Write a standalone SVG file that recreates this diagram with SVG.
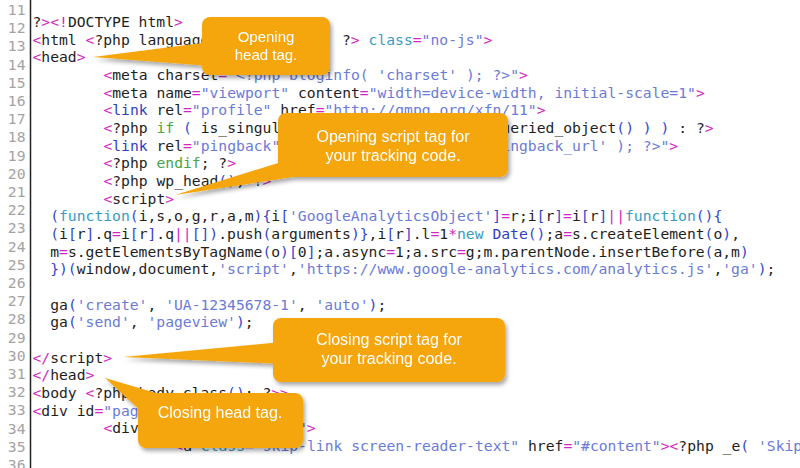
<svg xmlns="http://www.w3.org/2000/svg" width="800" height="468" viewBox="0 0 800 468">
<style>
.code text, .ln text { font-family: "DejaVu Sans Mono", "Liberation Mono", monospace; font-size: 14.7px; white-space: pre; }
.ln text { fill: #a3a3a3; text-anchor: end; }
.k { fill: #1e1e1e; }
.t { fill: #d426c6; }
.s { fill: #6b7bd6; }
.p { fill: #3447cc; }
.f { fill: #3a9bc2; }
.g { fill: #46a546; }
.b { fill: #2f3fc2; }
.callout { fill: #f5a60f; }
.ctext { font-family: "Liberation Sans", Arial, sans-serif; font-size: 16px; fill: #ffffff; text-anchor: middle; }
</style>
<defs>
<filter id="sh" x="-20%" y="-30%" width="140%" height="170%">
<feDropShadow dx="2" dy="3" stdDeviation="2" flood-color="#000" flood-opacity="0.35"/>
</filter>
</defs>
<rect width="800" height="468" fill="#ffffff"/>
<line x1="30.5" y1="0" x2="30.5" y2="468" stroke="#222" stroke-width="1.5"/>
<g class="ln">
<text x="25.5" y="15">11</text>
<text x="25.5" y="33.2">12</text>
<text x="25.5" y="51.4">13</text>
<text x="25.5" y="69.6">14</text>
<text x="25.5" y="87.8">15</text>
<text x="25.5" y="106">16</text>
<text x="25.5" y="124.2">17</text>
<text x="25.5" y="142.4">18</text>
<text x="25.5" y="160.6">19</text>
<text x="25.5" y="178.8">20</text>
<text x="25.5" y="197">21</text>
<text x="25.5" y="215.2">22</text>
<text x="25.5" y="233.4">23</text>
<text x="25.5" y="251.6">24</text>
<text x="25.5" y="269.8">25</text>
<text x="25.5" y="288">26</text>
<text x="25.5" y="306.2">27</text>
<text x="25.5" y="324.4">28</text>
<text x="25.5" y="342.6">29</text>
<text x="25.5" y="360.8">30</text>
<text x="25.5" y="379">31</text>
<text x="25.5" y="397.2">32</text>
<text x="25.5" y="415.4">33</text>
<text x="25.5" y="433.6">34</text>
<text x="25.5" y="451.8">35</text>
<text x="25.5" y="470">36</text>
</g>
<g class="code" xml:space="preserve">
<text x="32.5" y="27"><tspan class="k">?</tspan><tspan class="t">&gt;&lt;!</tspan><tspan class="k">DOCTYPE html</tspan><tspan class="t">&gt;</tspan></text>
<text x="32.5" y="44.7"><tspan class="t">&lt;</tspan><tspan class="k">html </tspan><tspan class="t">&lt;</tspan><tspan class="k">?php language_attributes</tspan><tspan class="p">()</tspan><tspan class="k">; ?</tspan><tspan class="t">&gt;</tspan><tspan class="k"> </tspan><tspan class="f">class</tspan><tspan class="t">=</tspan><tspan class="s">"no-js"</tspan><tspan class="t">&gt;</tspan></text>
<text x="32.5" y="62.3"><tspan class="t">&lt;</tspan><tspan class="k">head</tspan><tspan class="t">&gt;</tspan></text>
<text x="103.4" y="80"><tspan class="t">&lt;</tspan><tspan class="k">meta charset</tspan><tspan class="t">=</tspan><tspan class="s">"&lt;?php bloginfo( 'charset' ); ?&gt;"</tspan><tspan class="t">&gt;</tspan></text>
<text x="103.4" y="97.7"><tspan class="t">&lt;</tspan><tspan class="k">meta name</tspan><tspan class="t">=</tspan><tspan class="s">"viewport"</tspan><tspan class="k"> content</tspan><tspan class="t">=</tspan><tspan class="s">"width=device-width, initial-scale=1"</tspan><tspan class="t">&gt;</tspan></text>
<text x="103.4" y="115.3"><tspan class="t">&lt;</tspan><tspan class="b">link</tspan><tspan class="k"> rel</tspan><tspan class="t">=</tspan><tspan class="s">"profile"</tspan><tspan class="k"> href</tspan><tspan class="t">=</tspan><tspan class="s">"http://gmpg.org/xfn/11"</tspan><tspan class="t">&gt;</tspan></text>
<text x="103.4" y="133"><tspan class="t">&lt;</tspan><tspan class="k">?php </tspan><tspan class="g">if</tspan><tspan class="k"> </tspan><tspan class="p">(</tspan><tspan class="k"> is_singular</tspan><tspan class="p">()</tspan><tspan class="k"> </tspan><tspan class="t">&amp;&amp;</tspan><tspan class="k"> pings_open</tspan><tspan class="p">(</tspan><tspan class="k"> get_queried_object</tspan><tspan class="p">()</tspan><tspan class="k"> </tspan><tspan class="p">)</tspan><tspan class="k"> </tspan><tspan class="p">)</tspan><tspan class="k"> : ?</tspan><tspan class="t">&gt;</tspan></text>
<text x="103.4" y="150.7"><tspan class="t">&lt;</tspan><tspan class="b">link</tspan><tspan class="k"> rel</tspan><tspan class="t">=</tspan><tspan class="s">"pingback"</tspan><tspan class="k"> href</tspan><tspan class="t">=</tspan><tspan class="s">"&lt;?php bloginfo( 'pingback_url' ); ?&gt;"</tspan><tspan class="t">&gt;</tspan></text>
<text x="103.4" y="168.3"><tspan class="t">&lt;</tspan><tspan class="k">?php </tspan><tspan class="g">endif</tspan><tspan class="k">; ?</tspan><tspan class="t">&gt;</tspan></text>
<text x="103.4" y="186"><tspan class="t">&lt;</tspan><tspan class="k">?php wp_head</tspan><tspan class="p">()</tspan><tspan class="k">; ?</tspan><tspan class="t">&gt;</tspan></text>
<text x="103.4" y="203.7"><tspan class="t">&lt;</tspan><tspan class="k">script</tspan><tspan class="t">&gt;</tspan></text>
<text x="50.2" y="221.4"><tspan class="p">(</tspan><tspan class="f">function</tspan><tspan class="p">(</tspan><tspan class="k">i,s,o,g,r,a,m</tspan><tspan class="p">){</tspan><tspan class="k">i</tspan><tspan class="p">[</tspan><tspan class="s">'GoogleAnalyticsObject'</tspan><tspan class="p">]</tspan><tspan class="t">=</tspan><tspan class="k">r;i</tspan><tspan class="p">[</tspan><tspan class="k">r</tspan><tspan class="p">]</tspan><tspan class="t">=</tspan><tspan class="k">i</tspan><tspan class="p">[</tspan><tspan class="k">r</tspan><tspan class="p">]</tspan><tspan class="t">||</tspan><tspan class="f">function</tspan><tspan class="p">(){</tspan></text>
<text x="50.2" y="239"><tspan class="p">(</tspan><tspan class="k">i</tspan><tspan class="p">[</tspan><tspan class="k">r</tspan><tspan class="p">]</tspan><tspan class="k">.q</tspan><tspan class="t">=</tspan><tspan class="k">i</tspan><tspan class="p">[</tspan><tspan class="k">r</tspan><tspan class="p">]</tspan><tspan class="k">.q</tspan><tspan class="t">||</tspan><tspan class="p">[])</tspan><tspan class="k">.push</tspan><tspan class="p">(</tspan><tspan class="k">arguments</tspan><tspan class="p">)}</tspan><tspan class="k">,i</tspan><tspan class="p">[</tspan><tspan class="k">r</tspan><tspan class="p">]</tspan><tspan class="k">.l</tspan><tspan class="t">=</tspan><tspan class="k">1</tspan><tspan class="t">*</tspan><tspan class="f">new</tspan><tspan class="k"> </tspan><tspan class="b">Date</tspan><tspan class="p">()</tspan><tspan class="k">;a</tspan><tspan class="t">=</tspan><tspan class="k">s.createElement</tspan><tspan class="p">(</tspan><tspan class="k">o</tspan><tspan class="p">)</tspan><tspan class="k">,</tspan></text>
<text x="50.2" y="256.7"><tspan class="k">m</tspan><tspan class="t">=</tspan><tspan class="k">s.getElementsByTagName</tspan><tspan class="p">(</tspan><tspan class="k">o</tspan><tspan class="p">)[</tspan><tspan class="k">0</tspan><tspan class="p">]</tspan><tspan class="k">;a.async</tspan><tspan class="t">=</tspan><tspan class="k">1;a.src</tspan><tspan class="t">=</tspan><tspan class="k">g;m.parentNode.insertBefore</tspan><tspan class="p">(</tspan><tspan class="k">a,m</tspan><tspan class="p">)</tspan></text>
<text x="50.2" y="274.4"><tspan class="p">})(</tspan><tspan class="k">window,document,</tspan><tspan class="s">'script'</tspan><tspan class="k">,</tspan><tspan class="s">'https://www.google-analytics.com/analytics.js'</tspan><tspan class="k">,</tspan><tspan class="s">'ga'</tspan><tspan class="p">)</tspan><tspan class="k">;</tspan></text>
<text x="50.2" y="309.7"><tspan class="k">ga</tspan><tspan class="p">(</tspan><tspan class="s">'create'</tspan><tspan class="k">, </tspan><tspan class="s">'UA-12345678-1'</tspan><tspan class="k">, </tspan><tspan class="s">'auto'</tspan><tspan class="p">)</tspan><tspan class="k">;</tspan></text>
<text x="50.2" y="327.4"><tspan class="k">ga</tspan><tspan class="p">(</tspan><tspan class="s">'send'</tspan><tspan class="k">, </tspan><tspan class="s">'pageview'</tspan><tspan class="p">)</tspan><tspan class="k">;</tspan></text>
<text x="32.5" y="362.7"><tspan class="t">&lt;/</tspan><tspan class="k">script</tspan><tspan class="t">&gt;</tspan></text>
<text x="32.5" y="380.4"><tspan class="t">&lt;/</tspan><tspan class="k">head</tspan><tspan class="t">&gt;</tspan></text>
<text x="32.5" y="398"><tspan class="t">&lt;</tspan><tspan class="k">body </tspan><tspan class="t">&lt;</tspan><tspan class="k">?php body_class</tspan><tspan class="p">()</tspan><tspan class="k">; ?</tspan><tspan class="t">&gt;&gt;</tspan></text>
<text x="32.5" y="415.7"><tspan class="t">&lt;</tspan><tspan class="k">div id</tspan><tspan class="t">=</tspan><tspan class="s">"page"</tspan><tspan class="k"> </tspan><tspan class="f">class</tspan><tspan class="t">=</tspan><tspan class="s">"site"</tspan><tspan class="t">&gt;</tspan></text>
<text x="103.4" y="433.4"><tspan class="t">&lt;</tspan><tspan class="k">div </tspan><tspan class="f">class</tspan><tspan class="t">=</tspan><tspan class="s">"site-inner"</tspan><tspan class="t">&gt;</tspan></text>
<text x="174.3" y="451"><tspan class="t">&lt;</tspan><tspan class="k">a </tspan><tspan class="f">class</tspan><tspan class="t">=</tspan><tspan class="s">"skip-link screen-reader-text"</tspan><tspan class="k"> href</tspan><tspan class="t">=</tspan><tspan class="s">"#content"</tspan><tspan class="t">&gt;&lt;</tspan><tspan class="k">?php _e</tspan><tspan class="p">(</tspan><tspan class="k"> </tspan><tspan class="s">'Skip to content'</tspan><tspan class="k">, </tspan><tspan class="s">'twentysixteen'</tspan><tspan class="k"> </tspan><tspan class="p">)</tspan><tspan class="k">; ?</tspan><tspan class="t">&gt;&lt;/</tspan><tspan class="k">a</tspan><tspan class="t">&gt;</tspan></text>
</g>
<g id="callout-open-head" filter="url(#sh)">
<path class="callout" d="M93,57 L210,42 L210,66 Z"/>
<rect class="callout" x="202" y="17" width="128" height="58" rx="8"/>
<text class="ctext" x="266" y="42" style="font-size:15px">Opening</text>
<text class="ctext" x="266" y="60" style="font-size:15px">head tag.</text>
</g>
<g id="callout-open-script" filter="url(#sh)">
<path class="callout" d="M175,195 L288,160 L300,176 Z"/>
<rect class="callout" x="278" y="113" width="230" height="64" rx="8"/>
<text class="ctext" x="393" y="142">Opening script tag for</text>
<text class="ctext" x="393" y="161">your tracking code.</text>
</g>
<g id="callout-close-script" filter="url(#sh)">
<path class="callout" d="M123,357 L282,342 L282,364 Z"/>
<rect class="callout" x="273" y="318" width="232" height="64" rx="8"/>
<text class="ctext" x="389" y="345">Closing script tag for</text>
<text class="ctext" x="389" y="364">your tracking code.</text>
</g>
<g id="callout-close-head" filter="url(#sh)">
<path class="callout" d="M105,378 L166,396 L142,412 Z"/>
<rect class="callout" x="138" y="393" width="165" height="55" rx="8"/>
<text class="ctext" x="220" y="418">Closing head tag.</text>
</g>
</svg>
